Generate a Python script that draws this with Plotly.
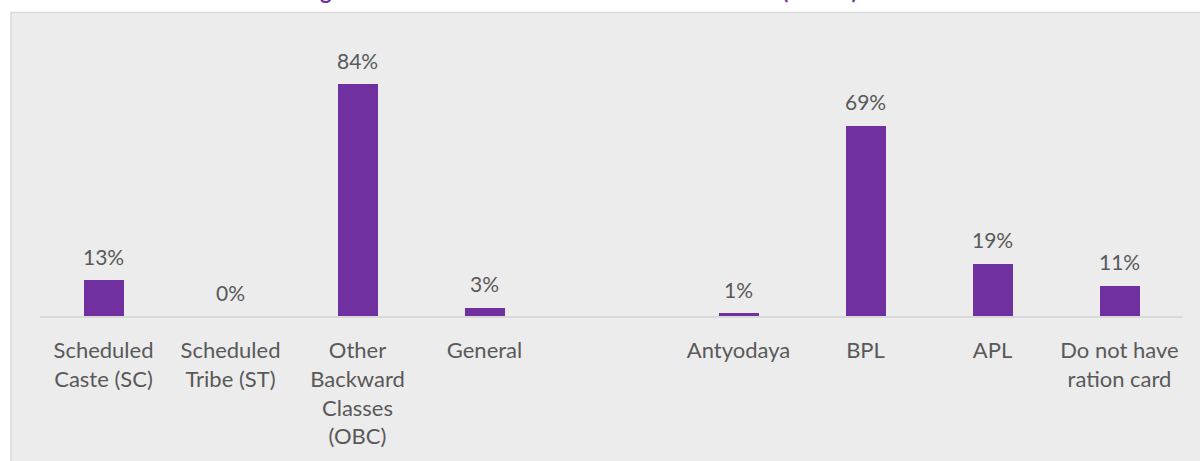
import plotly.graph_objects as go

# Social category of households (percent)
caste_labels = ["Scheduled<br>Caste (SC)", "Scheduled<br>Tribe (ST)",
                "Other<br>Backward<br>Classes<br>(OBC)", "General"]
caste_values = [13, 0, 84, 3]

# Ration card held by households (percent)
card_labels = ["Antyodaya", "BPL", "APL", "Do not have<br>ration card"]
card_values = [1, 69, 19, 11]

title_text = "Figure : Socio-economic Status of the Household (n=120)"

# empty slot separating the two groups
spacer = " "
categories = caste_labels + [spacer] + card_labels
values = caste_values + [None] + card_values

W, H = 1200, 461
ML, MR, MT, MB = 40, 17, 40, 141
plot_w = W - ML - MR
plot_h = H - MT - MB

PURPLE = "#7030A0"
TEXT = "#595959"
PANEL = "#ECECEC"
BORDER = "#D9D9D9"
FONT = "Lato"


def px_x(p):
    return (p - ML) / plot_w


def px_y(p):
    return (H - MB - p) / plot_h


fig = go.Figure()
fig.add_trace(go.Bar(
    x=categories,
    y=values,
    width=0.315,
    marker=dict(color=PURPLE, line=dict(width=0)),
    hoverinfo="skip",
))

annotations = []
for c, v in zip(categories, values):
    if v is None:
        continue
    annotations.append(dict(
        x=c, y=v, xref="x", yref="y",
        text=f"{v}%", showarrow=False,
        yanchor="middle", yshift=24,
        font=dict(family=FONT, size=21, color=TEXT),
    ))

annotations.append(dict(
    x=px_x(580), y=px_y(-10), xref="paper", yref="paper",
    text=f"<b>{title_text}</b>", showarrow=False,
    xanchor="center", yanchor="middle",
    font=dict(family=FONT, size=22, color=PURPLE),
))

fig.update_layout(
    width=W, height=H,
    margin=dict(l=ML, r=MR, t=MT, b=MB, pad=0),
    paper_bgcolor="white",
    plot_bgcolor="rgba(0,0,0,0)",
    showlegend=False,
    bargap=0,
    annotations=annotations,
    shapes=[dict(
        type="rect", xref="paper", yref="paper", layer="below",
        x0=px_x(11), x1=px_x(1210), y0=px_y(480), y1=px_y(12),
        fillcolor=PANEL, line=dict(color=BORDER, width=1.5),
    )],
    font=dict(family=FONT, size=22, color=TEXT),
)
fig.update_xaxes(
    type="category",
    categoryorder="array", categoryarray=categories,
    showline=True, linecolor=BORDER, linewidth=2,
    showgrid=False, zeroline=False,
    ticks="outside", ticklen=14, tickcolor="rgba(0,0,0,0)",
    tickfont=dict(family=FONT, size=22, color=TEXT),
    fixedrange=True,
)
fig.update_yaxes(
    range=[0, 100], visible=False, showgrid=False, zeroline=False,
    fixedrange=True,
)

fig.write_html("out.html")
